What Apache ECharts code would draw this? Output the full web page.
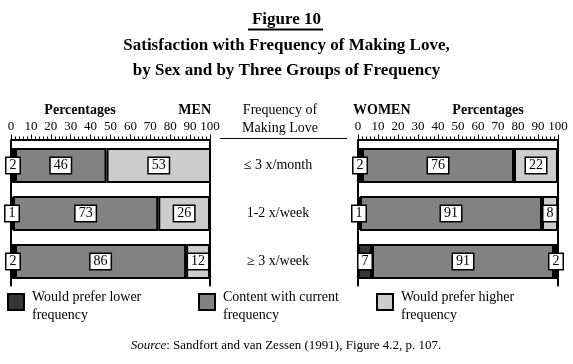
<!DOCTYPE html>
<html>
<head>
<meta charset="utf-8">
<script src="https://cdn.jsdelivr.net/npm/echarts@6/dist/echarts.min.js"></script>
<style>html,body{margin:0;padding:0;background:#fff}#c{width:573px;height:364px}</style>
</head>
<body>
<div id="c"></div>
<script>
const categories = ['≤ 3 x/month', '1-2 x/week', '≥ 3 x/week'];
const seriesNames = ['Would prefer lower\nfrequency', 'Content with current\nfrequency', 'Would prefer higher\nfrequency'];
const menLower = [2, 1, 2];
const menContent = [46, 73, 86];
const menHigher = [53, 26, 12];
const womenLower = [2, 1, 7];
const womenContent = [76, 91, 91];
const womenHigher = [22, 8, 2];
const tickValues = [0, 10, 20, 30, 40, 50, 60, 70, 80, 90, 100];

const FONT = 'Liberation Serif';
const colors = ['#363636', '#828282', '#cdcdcd'];

const chart = echarts.init(document.getElementById('c'), null, {renderer: 'canvas'});

function xAxisDef(gi) {
  return {
    gridIndex: gi, type: 'value', position: 'top', min: 0, max: 100, interval: 10, offset: 2,
    axisLine: {show: true, onZero: false, lineStyle: {color: '#000', width: 2}},
    axisTick: {show: true, length: 5, lineStyle: {color: '#000', width: 1}},
    minorTick: {show: true, splitNumber: 5, length: 3, lineStyle: {color: '#000', width: 1}},
    splitLine: {show: false},
    axisLabel: {color: '#000', fontFamily: FONT, fontSize: 13, margin: 6,
      formatter: v => tickValues.indexOf(v) >= 0 ? String(v) : ''}
  };
}
function yAxisDef(gi, pos, labels) {
  const a = {
    gridIndex: gi, type: 'category', data: categories, inverse: true, position: pos,
    axisLine: {show: true, lineStyle: {color: '#000', width: 2}},
    axisTick: {show: false}, splitLine: {show: false},
    axisLabel: {show: false}
  };
  if (labels) {
    a.axisLabel = {show: true, align: 'center', margin: 68, color: '#000', fontFamily: FONT, fontSize: 14};
  }
  return a;
}
const labelStyle = {
  show: true, position: 'inside', color: '#000', fontFamily: FONT, fontSize: 14,
  backgroundColor: '#fff', borderColor: '#000', borderWidth: 1.5, padding: [1, 3, 0, 3]
};
function barSeries(name, data, xi, yi, ci) {
  return {
    name: name, type: 'bar', stack: 's' + xi, xAxisIndex: xi, yAxisIndex: yi, data: data,
    barWidth: 35, itemStyle: {color: colors[ci], borderColor: '#000', borderWidth: 2},
    label: labelStyle, emphasis: {disabled: true}, animation: false
  };
}

const option = {
  animation: false,
  backgroundColor: '#fff',
  title: [
    {text: 'Figure 10', left: 'center', top: 6, textStyle: {fontFamily: FONT, fontSize: 17, fontWeight: 'bold', color: '#000'}},
    {text: 'Satisfaction with Frequency of Making Love,\nby Sex and by Three Groups of Frequency', left: 'center', top: 28,
      textStyle: {fontFamily: FONT, fontSize: 17, fontWeight: 'bold', color: '#000', lineHeight: 25}}
  ],
  grid: [
    {left: 11, width: 199, top: 141.5, height: 144},
    {left: 358, width: 200, top: 141.5, height: 144}
  ],
  xAxis: [xAxisDef(0), xAxisDef(1)],
  yAxis: [yAxisDef(0, 'left', false), yAxisDef(0, 'right', true), yAxisDef(1, 'left', false), yAxisDef(1, 'right', false)],
  legend: [0, 1, 2].map((i) => ({
    data: [seriesNames[i]], left: [2, 193, 371][i], top: 274.5, icon: 'rect', itemWidth: 16, itemHeight: 16, itemGap: 0,
    selectedMode: false,
    formatter: name => '{s| }\n' + name.split('\n').map(t => '{t|' + t + '}').join('\n'),
    itemStyle: {borderColor: '#000', borderWidth: 2},
    textStyle: {fontFamily: FONT, fontSize: 14, color: '#000', lineHeight: 18,
      rich: {
        s: {fontSize: 1, lineHeight: 9},
        t: {fontFamily: FONT, fontSize: 14, color: '#000', lineHeight: 18, padding: [0, 0, 0, 3]}
      }}
  })),
  series: [
    barSeries(seriesNames[0], menLower, 0, 0, 0),
    barSeries(seriesNames[1], menContent, 0, 0, 1),
    barSeries(seriesNames[2], menHigher, 0, 0, 2),
    barSeries(seriesNames[0], womenLower, 1, 2, 0),
    barSeries(seriesNames[1], womenContent, 1, 2, 1),
    barSeries(seriesNames[2], womenHigher, 1, 2, 2)
  ],
  graphic: [
    {type: 'line', shape: {x1: 248, y1: 29.5, x2: 323, y2: 29.5}, style: {stroke: '#000', lineWidth: 2}},
    {type: 'text', x: 80, y: 110, style: {text: 'Percentages', fontFamily: FONT, fontSize: 14, fontWeight: 'bold', fill: '#000', align: 'center', verticalAlign: 'middle'}},
    {type: 'text', x: 211, y: 110, style: {text: 'MEN', fontFamily: FONT, fontSize: 14, fontWeight: 'bold', fill: '#000', align: 'right', verticalAlign: 'middle'}},
    {type: 'text', x: 353, y: 110, style: {text: 'WOMEN', fontFamily: FONT, fontSize: 14, fontWeight: 'bold', fill: '#000', align: 'left', verticalAlign: 'middle'}},
    {type: 'text', x: 488, y: 110, style: {text: 'Percentages', fontFamily: FONT, fontSize: 14, fontWeight: 'bold', fill: '#000', align: 'center', verticalAlign: 'middle'}},
    {type: 'text', x: 280, y: 119, style: {text: 'Frequency of\nMaking Love', fontFamily: FONT, fontSize: 14, fill: '#000', align: 'center', verticalAlign: 'middle', lineHeight: 18}},
    {type: 'line', shape: {x1: 220, y1: 138.5, x2: 347, y2: 138.5}, style: {stroke: '#000', lineWidth: 1}},
    {type: 'text', x: 286, y: 346, style: {
      text: '{i|Source}: Sandfort and van Zessen (1991), Figure 4.2, p. 107.',
      rich: {i: {fontStyle: 'italic', fontFamily: FONT, fontSize: 13, fill: '#000'}},
      fontFamily: FONT, fontSize: 13, fill: '#000', align: 'center', verticalAlign: 'middle'}}
  ]
};
chart.setOption(option);
</script>
</body>
</html>
